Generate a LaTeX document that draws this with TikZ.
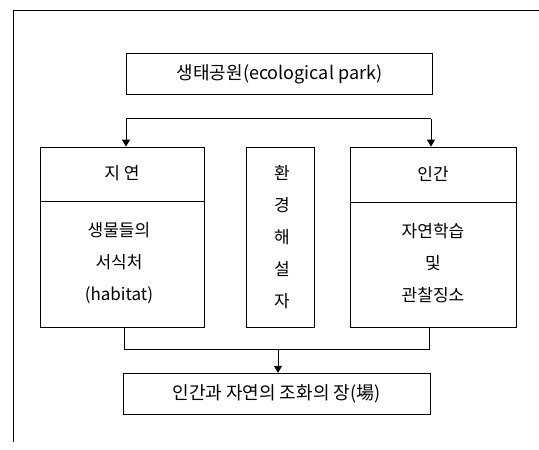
\documentclass[tikz,border=0pt]{standalone}
\usepackage{fontspec}
\setmainfont{Noto Sans CJK KR}
\usetikzlibrary{arrows.meta}
\begin{document}
\begin{tikzpicture}[x=1pt,y=-1pt,
  box/.style={draw,line width=0.8pt,inner sep=0pt},
  txt/.style={font=\fontsize{17}{20}\selectfont,inner sep=0pt},
  bigtxt/.style={font=\fontsize{18}{21}\selectfont,inner sep=0pt},
  conn/.style={line width=0.8pt},
  arr/.style={line width=0.8pt,-{Triangle[length=7pt,width=8pt]}}]
\useasboundingbox (0,0) rectangle (539,450);
% outer frame (top and left only)
\draw[line width=0.9pt] (13,442) -- (13,10) -- (539,10);
% top box
\node[box,minimum width=306pt,minimum height=41.5pt,bigtxt] (park) at (279.5,74) {생태공원(ecological park)};
% left box
\node[box,minimum width=164pt,minimum height=180pt] (nat) at (122,237) {};
\draw[conn] (nat.west |- 0,201) -- (nat.east |- 0,201);
\node[txt] (natT) at (122,173) {지 연};
\node[txt,align=center,text width=150pt] (natB) at (119,263.5) {생물들의\\[12pt]서식처\\[12pt](habitat)};
% middle box
\node[box,minimum width=67.5pt,minimum height=180pt] (mid) at (280.25,237) {};
\node[txt,align=center] (midT) at (282,237) {환\\[12pt]경\\[12pt]해\\[12pt]설\\[12pt]자};
% right box
\node[box,minimum width=165.5pt,minimum height=180pt] (hum) at (433.25,237) {};
\draw[conn] (hum.west |- 0,202) -- (hum.east |- 0,202);
\node[txt] (humT) at (433,174) {인간};
\node[txt,align=center,text width=150pt] (humB) at (433,263) {자연학습\\[12pt]및\\[12pt]관찰징소};
% bottom box
\node[box,minimum width=307pt,minimum height=41.5pt,bigtxt] (harm) at (276.5,394) {인간과 자연의 조화의 장(場)};
% top connector
\coordinate (tl) at (126,118.5);
\coordinate (tr) at (431,118.5);
\draw[conn] (tl) -- (tr);
\draw[arr] (tl) -- (tl |- nat.north);
\draw[arr] (tr) -- (tr |- hum.north);
% bottom connector
\coordinate (bl) at (124,349);
\coordinate (br) at (429,349);
\coordinate (bm) at (278,349);
\draw[conn] (bl |- nat.south) -- (bl) -- (br) -- (br |- hum.south);
\draw[arr] (bm) -- (bm |- harm.north);
\end{tikzpicture}
\end{document}
